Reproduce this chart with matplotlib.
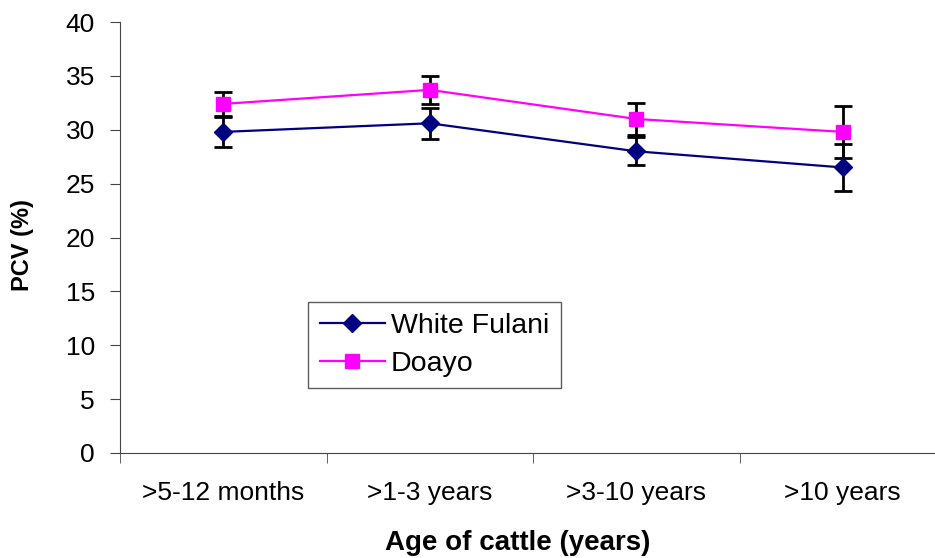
import numpy as np
import matplotlib.pyplot as plt

plt.rcParams['font.family'] = ['Liberation Sans', 'DejaVu Sans']

categories = ['>5-12 months', '>1-3 years', '>3-10 years', '>10 years']
white_fulani = [29.8, 30.6, 28.0, 26.5]
white_fulani_err = [1.4, 1.45, 1.3, 2.2]
doayo = [32.4, 33.7, 31.0, 29.8]
doayo_err = [1.1, 1.3, 1.5, 2.4]

fig = plt.figure(figsize=(9.35, 5.58), dpi=100)
ax = fig.add_axes([120/935, 105/558, 826/935, 431/558])

x = np.arange(len(categories))
ax.errorbar(x, white_fulani, yerr=white_fulani_err, color='#000080', marker='D',
            markersize=9, linewidth=1.6, ecolor='black', elinewidth=2,
            capsize=6.5, capthick=2, label='White Fulani', zorder=3)
ax.errorbar(x, doayo, yerr=doayo_err, color='#FF00FF', marker='s',
            markersize=10, linewidth=1.6, ecolor='black', elinewidth=2,
            capsize=6.5, capthick=2, label='Doayo', zorder=3)

ax.set_xlim(-0.5, len(categories) - 0.5)
ax.set_ylim(0, 40)
ax.set_yticks(range(0, 41, 5))
ax.set_xticks(x)
ax.set_xticklabels(categories)
ax.set_xticks(np.arange(-0.5, len(categories), 1.0), minor=True)

for s in ['top', 'right']:
    ax.spines[s].set_visible(False)
ax.spines['left'].set_color('#444444')
ax.spines['bottom'].set_color('#444444')

ax.tick_params(axis='x', which='major', length=0, pad=20, labelsize=19)
ax.tick_params(axis='x', which='minor', length=7, direction='out', color='#444444')
ax.tick_params(axis='y', length=7, direction='out', pad=11, labelsize=19,
               color='#444444')

fig.text(22/935, 1 - 245/558, 'PCV (%)', rotation=90, ha='center', va='center',
         fontsize=17, fontweight='bold')
fig.text(518/935, 1 - 543/558, 'Age of cattle (years)', ha='center', va='center',
         fontsize=20, fontweight='bold')

handles, labels = ax.get_legend_handles_labels()
handles = [h[0] for h in handles]
leg = ax.legend(handles, labels, loc='lower left', bbox_to_anchor=(0.228, 0.151),
                borderaxespad=0, fontsize=20.5, frameon=True, fancybox=False,
                edgecolor='#333333', handlelength=2.3, borderpad=0.4,
                labelspacing=0.4, handletextpad=0.2)
leg.get_frame().set_linewidth(1)

fig.savefig('out.png', dpi=100)
